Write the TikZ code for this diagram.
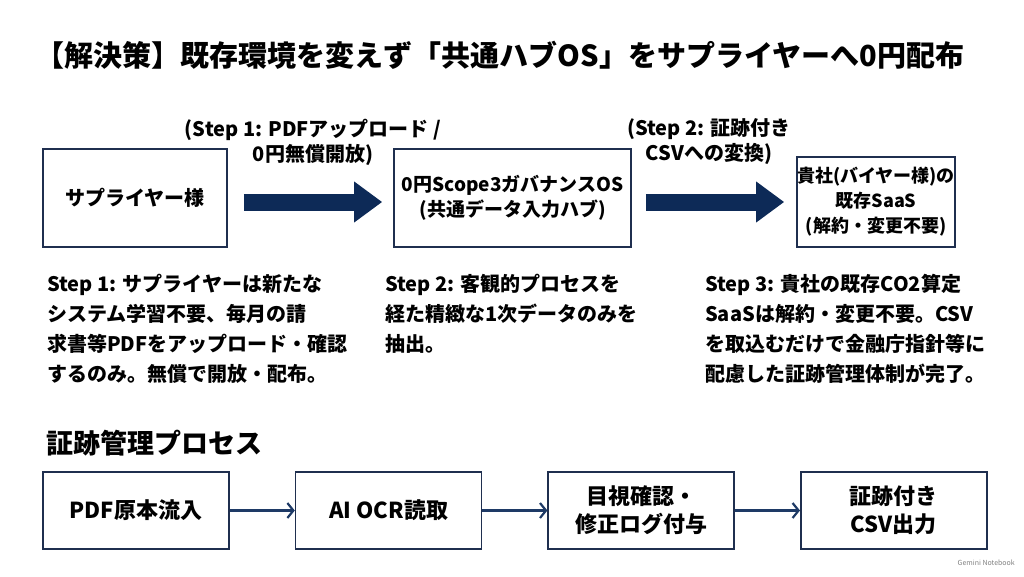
\documentclass[tikz,border=0pt]{standalone}
\usepackage{fontspec}
\setmainfont{Noto Sans CJK JP}
\usetikzlibrary{arrows.meta, positioning}
\definecolor{boxnavy}{HTML}{1F2F4F}
\definecolor{arrownavy}{HTML}{0D2A57}
\definecolor{linknavy}{HTML}{1E3A66}

\begin{document}
\begin{tikzpicture}[
            x = 1pt, y = -1pt, % one unit = one pixel of the slide
            > = {Straight Barb[length=6pt,width=15pt]}, % arrow head style
            node distance = 65pt, % gap between the process boxes
            box/.style = {draw = boxnavy, line width = 1.6pt, fill = white,
                align = center, inner sep = 0pt,
                font = \bfseries\fontsize{20}{25}\selectfont},
            bigarrow/.style = {draw = arrownavy, line width = 17pt,
                -{Triangle[length=28pt,width=39pt]}},
            link/.style = {draw = linknavy, line width = 2.2pt, ->},
            steplabel/.style = {align = center, inner sep = 0pt,
                font = \bfseries\fontsize{20}{25}\selectfont},
            note/.style = {anchor = north west, align = left, inner sep = 0pt,
                font = \bfseries\fontsize{20}{30}\selectfont}
        ]

        \useasboundingbox (0,0) rectangle (1024,576);

        \node[font = \bfseries\fontsize{29}{34}\selectfont] (title) at (500,55)
            {【解決策】既存環境を変えず「共通ハブOS」をサプライヤーへ0円配布};

        % top row
        \node[box, minimum width = 184pt, minimum height = 98pt] (sup) at (135,198) {サプライヤー様};
        \node[box, minimum width = 237pt, minimum height = 98pt,
            font = \bfseries\fontsize{19}{25}\selectfont] (hub) at (512.5,198)
            {0円Scope3ガバナンスOS\\(共通データ入力ハブ)};
        \node[box, minimum width = 158pt, minimum height = 90pt,
            font = \bfseries\fontsize{18}{25}\selectfont] (buyer) at (876,202)
            {貴社(バイヤー様)の\\既存SaaS\\(解約・変更不要)};

        \draw[bigarrow] ([shift={(16,4)}]sup.east) -- ([shift={(-11,4)}]hub.west);
        \draw[bigarrow] ([shift={(14,4)}]hub.east) -- ([shift={(-12,0)}]buyer.west);

        \node[steplabel] (lblone) at (313,142) {(Step 1: PDFアップロード /\\0円無償開放)};
        \node[steplabel] (lbltwo) at (709,142) {(Step 2: 証跡付き\\CSVへの変換)};

        % step notes
        \node[note] (noteone) at (47,274)
            {Step 1: サプライヤーは新たな\\システム学習不要、毎月の請\\求書等PDFをアップロード・確認\\するのみ。無償で開放・配布。};
        \node[note] (notetwo) at (385,274)
            {Step 2: 客観的プロセスを\\経た精緻な1次データのみを\\抽出。};
        \node[note] (notethree) at (705,274)
            {Step 3: 貴社の既存CO2算定\\SaaSは解約・変更不要。CSV\\を取込むだけで金融庁指針等に\\配慮した証跡管理体制が完了。};

        % evidence process
        \node[anchor = west, inner sep = 0pt, font = \bfseries\fontsize{27}{32}\selectfont]
            (proc) at (46,443) {証跡管理プロセス};

        \node[box, minimum width = 186pt, minimum height = 77pt,
            font = \bfseries\fontsize{22}{28}\selectfont] (pdf) at (136,510.5) {PDF原本流入};
        \node[box, minimum width = 186pt, minimum height = 77pt,
            font = \bfseries\fontsize{22}{28}\selectfont] (ocr) [right = of pdf] {AI OCR読取};
        \node[box, minimum width = 186pt, minimum height = 77pt,
            font = \bfseries\fontsize{22}{28}\selectfont] (check) [right = of ocr] {目視確認・\\修正ログ付与};
        \node[box, minimum width = 186pt, minimum height = 77pt,
            font = \bfseries\fontsize{22}{28}\selectfont] (csv) [right = of check] {証跡付き\\CSV出力};

        \path[link] (pdf) edge (ocr);
        \path[link] (ocr) edge (check);
        \path[link] (check) edge (csv);

        \node[anchor = east, inner sep = 0pt, text = gray,
            font = \fontsize{7}{8}\selectfont] (mark) at (1015,563) {Gemini Notebook};
    \end{tikzpicture}
\end{document}
